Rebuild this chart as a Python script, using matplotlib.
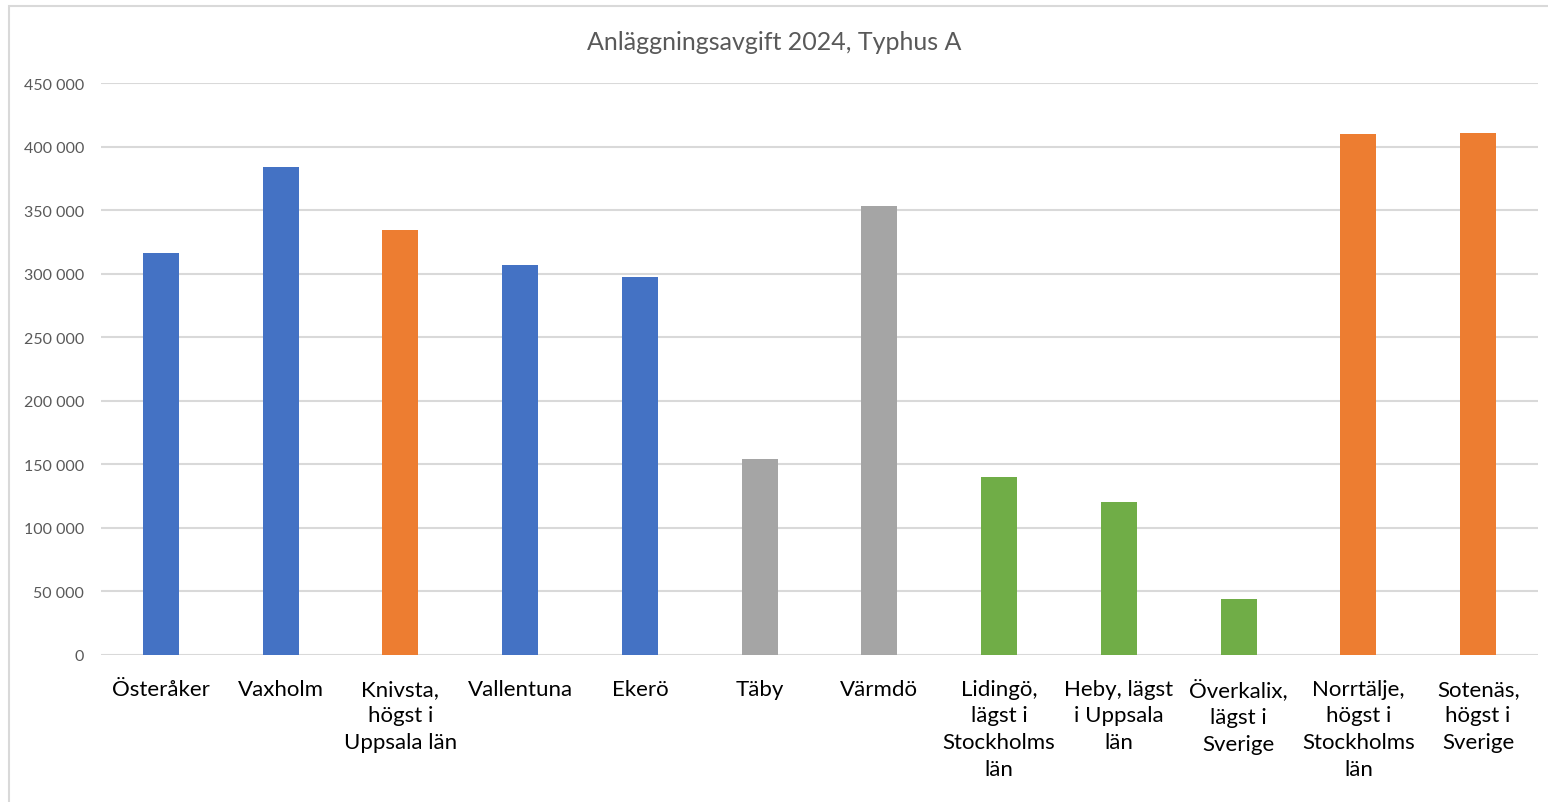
import matplotlib
matplotlib.use("Agg")
import matplotlib.pyplot as plt
from matplotlib.patches import Rectangle
from matplotlib.ticker import FuncFormatter

categories = ["Österåker", "Vaxholm", "Knivsta,\nhögst i\nUppsala län", "Vallentuna", "Ekerö",
              "Täby", "Värmdö", "Lidingö,\nlägst i\nStockholms\nlän", "Heby, lägst\ni Uppsala\nlän",
              "Överkalix,\nlägst i\nSverige", "Norrtälje,\nhögst i\nStockholms\nlän", "Sotenäs,\nhögst i\nSverige"]
values = [316000, 384000, 334000, 307000, 297000, 154000, 353000, 140000, 120000, 44000, 410000, 411000]
groups = ["blue", "blue", "orange", "blue", "blue", "gray", "gray", "green", "green", "green", "orange", "orange"]
palette = {"blue": "#4472C4", "orange": "#ED7D31", "gray": "#A5A5A5", "green": "#70AD47"}
yticks = list(range(0, 450001, 50000))
title = "Anläggningsavgift 2024, Typhus A"

plt.rcParams['font.family'] = ['Lato', 'DejaVu Sans']

fig = plt.figure(figsize=(15.48, 8.03), dpi=100)
fig.patches.append(Rectangle((9/1548, -0.05), 1.2, (803-7)/803 + 0.05, transform=fig.transFigure,
                             fill=False, edgecolor="#D9D9D9", linewidth=1.5))
ax = fig.add_axes([101/1548, (803-656)/803, (1538-101)/1548, (656-84)/803])
x = list(range(len(categories)))
ax.bar(x, values, width=0.30, color=[palette[g] for g in groups], zorder=3)
ax.set_xlim(-0.5, len(categories)-0.5)
ax.set_ylim(0, 450000)
ax.set_yticks(yticks)
ax.yaxis.set_major_formatter(FuncFormatter(lambda v, p: f"{int(v):,}".replace(",", " ")))
ax.grid(axis="y", color="#D9D9D9", linewidth=1.5, zorder=0)
for s in ax.spines.values():
    s.set_visible(False)
ax.tick_params(axis="both", length=0)
ax.tick_params(axis="y", labelsize=11.5, labelcolor="#595959", pad=12)
ax.set_xticks(x)
ax.set_xticklabels(categories, fontsize=16, color="#000000", linespacing=1.42, va="top")
ax.tick_params(axis="x", pad=17)
fig.text(0.5, 1-43/803, title, ha="center", va="center", fontsize=18, color="#595959")
fig.savefig("out.png", dpi=100)
